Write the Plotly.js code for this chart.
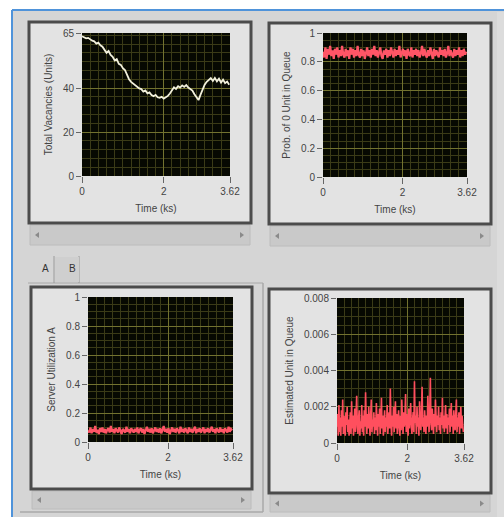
<!DOCTYPE html>
<html><head><meta charset="utf-8">
<script src="https://cdn.plot.ly/plotly-3.0.1.min.js"></script>
<style>html,body{margin:0;padding:0;background:#fff;}#chart{width:504px;height:517px;}</style>
</head><body><div id="chart"></div>
<script>
// ---- data ----
const timeTicks = [0, 2, 3.62];
const timeTickText = ['0', '2', '3.62'];
const vacancyTicks = [0, 20, 40, 65];
const probTicks = [0, 0.2, 0.4, 0.6, 0.8, 1];
const queueTicks = [0, 0.002, 0.004, 0.006, 0.008];

// Total Vacancies (Units), sampled every 0.05 ks
const vacancies = [63.5,63,62.6,62.8,62,61.5,61.2,60.2,60.6,59.4,58.8,57.5,56,56.8,55,54.2,52.5,53.1,51,50.5,
  49,48.2,46,44,42.8,42,41.2,40.6,39.8,39.5,38.4,38.9,37.6,38,36.8,36.3,36.9,35.8,35.5,36,
  35.2,35.8,36.4,37.5,39.2,40.3,39.6,40.8,40.2,41.2,40.5,41.3,40.2,39.6,38.8,37.2,35.5,34.5,37,39.4,
  41.5,42.8,43.6,44.5,43.2,44.6,43,44.2,42.5,43.8,42.2,42.9,41.5];

// Prob. of 0 Unit in Queue, sampled every 0.03 ks
const probZero = [0.87,0.83,0.90,0.82,0.89,0.85,0.91,0.84,0.88,0.82,0.89,0.85,0.90,0.83,0.88,0.84,0.91,0.85,0.83,0.89,
  0.84,0.88,0.82,0.90,0.85,0.89,0.83,0.88,0.84,0.91,0.85,0.83,0.89,0.84,0.88,0.82,0.86,0.90,0.84,0.88,
  0.83,0.89,0.85,0.91,0.84,0.88,0.83,0.86,0.90,0.84,0.82,0.88,0.85,0.89,0.83,0.88,0.84,0.90,0.85,0.83,
  0.89,0.84,0.88,0.85,0.91,0.83,0.86,0.89,0.84,0.88,0.82,0.89,0.85,0.84,0.90,0.83,0.88,0.85,0.89,0.84,
  0.88,0.83,0.86,0.91,0.84,0.89,0.85,0.83,0.88,0.84,0.90,0.85,0.82,0.89,0.84,0.88,0.85,0.83,0.90,0.85,
  0.88,0.84,0.89,0.83,0.86,0.91,0.84,0.88,0.85,0.83,0.89,0.84,0.88,0.85,0.90,0.83,0.88,0.84,0.89,0.85,0.87];

// Server Utilization A, sampled every 0.03 ks
const utilA = [0.08,0.065,0.10,0.06,0.09,0.07,0.11,0.065,0.085,0.055,0.095,0.07,0.10,0.065,0.09,0.06,0.085,0.095,0.065,0.11,
  0.07,0.09,0.06,0.095,0.08,0.065,0.10,0.07,0.055,0.09,0.08,0.065,0.105,0.07,0.09,0.06,0.095,0.08,0.065,0.09,
  0.07,0.10,0.06,0.085,0.095,0.065,0.09,0.055,0.085,0.105,0.07,0.09,0.065,0.095,0.06,0.085,0.10,0.07,0.09,0.065,
  0.095,0.06,0.085,0.11,0.07,0.09,0.065,0.095,0.055,0.085,0.10,0.07,0.09,0.065,0.095,0.08,0.06,0.105,0.07,0.09,
  0.065,0.095,0.08,0.06,0.10,0.07,0.09,0.065,0.085,0.105,0.06,0.09,0.07,0.095,0.065,0.085,0.10,0.06,0.09,0.07,
  0.095,0.065,0.085,0.105,0.07,0.09,0.06,0.095,0.08,0.065,0.10,0.07,0.09,0.06,0.095,0.08,0.065,0.105,0.07,0.09,0.08];

// Estimated Unit in Queue, sampled every 0.0181 ks
const queueEst = [
  0.0009,0.0016,0.0004,0.0021,0.0006,0.0014,0.0004,0.0018,0.0009,0.0024,0.0005,0.0015,0.0008,0.0004,0.0017,0.0010,0.0020,0.0006,0.0013,0.0004,
  0.0010,0.0017,0.0005,0.0023,0.0008,0.0015,0.0004,0.0012,0.0019,0.0006,0.0015,0.0026,0.0009,0.0005,0.0014,0.0018,0.0004,0.0012,0.0008,0.0021,
  0.0006,0.0015,0.0004,0.0018,0.0009,0.0028,0.0013,0.0005,0.0016,0.0008,0.0020,0.0010,0.0004,0.0015,0.0024,0.0006,0.0013,0.0009,0.0017,0.0005,
  0.0014,0.0007,0.0022,0.0011,0.0004,0.0016,0.0009,0.0019,0.0005,0.0013,0.0025,0.0008,0.0015,0.0004,0.0012,0.0018,0.0006,0.0014,0.0009,0.0021,
  0.0005,0.0013,0.0017,0.0008,0.0030,0.0011,0.0004,0.0015,0.0009,0.0020,0.0006,0.0014,0.0023,0.0008,0.0016,0.0005,0.0012,0.0018,0.0009,0.0004,
  0.0015,0.0007,0.0024,0.0013,0.0005,0.0017,0.0009,0.0014,0.0027,0.0006,0.0016,0.0010,0.0004,0.0019,0.0008,0.0014,0.0022,0.0009,0.0005,0.0013,
  0.0017,0.0006,0.0034,0.0011,0.0015,0.0005,0.0020,0.0009,0.0014,0.0004,0.0023,0.0012,0.0007,0.0016,0.0031,0.0009,0.0014,0.0006,0.0018,0.0011,
  0.0005,0.0015,0.0009,0.0026,0.0013,0.0006,0.0017,0.0036,0.0011,0.0007,0.0019,0.0013,0.0005,0.0016,0.0009,0.0024,0.0012,0.0006,0.0015,0.0010,
  0.0020,0.0007,0.0014,0.0005,0.0017,0.0010,0.0025,0.0008,0.0015,0.0006,0.0013,0.0021,0.0008,0.0016,0.0005,0.0014,0.0010,0.0019,0.0006,0.0013,
  0.0022,0.0009,0.0015,0.0005,0.0018,0.0010,0.0007,0.0016,0.0024,0.0006,0.0014,0.0009,0.0017,0.0005,0.0013,0.0020,0.0008,0.0015,0.0010,0.0006];

// ---- layout helpers ----
const W = 504, H = 517;
const px = x => x / W, py = y => 1 - y / H;
const plotBg = '#070902', minorGrid = '#3b3b17', majorGrid = '#72722f';
const tickFont = {family: 'Liberation Sans, Arial, sans-serif', size: 10, color: '#444'};
const titleFont = {family: 'Liberation Sans, Arial, sans-serif', size: 10, color: '#444'};

// plot areas in pixels [left, top, right, bottom]
const areas = [[82, 33, 230, 176], [323, 33, 467, 177], [88, 297, 233, 442], [337, 298, 464, 443]];

function xAxis(i, anchor) {
  const a = areas[i];
  return {domain: [px(a[0]), px(a[2])], anchor: anchor, range: [0, 3.62], tickmode: 'array',
    tickvals: timeTicks, ticktext: timeTickText, ticks: 'outside', ticklen: 6, tickcolor: '#666',
    tickfont: tickFont, showgrid: true, gridcolor: majorGrid, gridwidth: 1, zeroline: false, showline: false,
    minor: {tickmode: 'linear', tick0: 0, dtick: 0.2, showgrid: true, gridcolor: minorGrid, gridwidth: 1, ticks: ''},
    title: {text: 'Time (ks)', font: titleFont, standoff: 8}, fixedrange: true};
}
function yAxis(i, anchor, range, ticks, text, minorDt, title) {
  const a = areas[i];
  return {domain: [py(a[3]), py(a[1])], anchor: anchor, range: range, tickmode: 'array',
    tickvals: ticks, ticktext: text, ticks: 'outside', ticklen: 5, tickcolor: '#666',
    tickfont: tickFont, showgrid: true, gridcolor: majorGrid, gridwidth: 1, zeroline: false, showline: false,
    minor: {tickmode: 'linear', tick0: 0, dtick: minorDt, showgrid: true, gridcolor: minorGrid, gridwidth: 1, ticks: ''},
    title: {text: title, font: titleFont, standoff: 8}, fixedrange: true};
}

const shapes = [];
function rect(x0, y0, x1, y1, fill, lineColor, lw) {
  shapes.push({type: 'rect', xref: 'paper', yref: 'paper', layer: 'below',
    x0: px(x0), x1: px(x1), y0: py(y1), y1: py(y0), fillcolor: fill,
    line: {color: lineColor || 'rgba(0,0,0,0)', width: lw || 0}});
}
function seg(x0, y0, x1, y1, color, lw) {
  shapes.push({type: 'line', xref: 'paper', yref: 'paper', layer: 'below',
    x0: px(x0), x1: px(x1), y0: py(y0), y1: py(y1), line: {color: color, width: lw}});
}
function tri(x, y, dir) {
  const d = dir < 0 ? `M${px(x+2)},${py(y-3)} L${px(x-2)},${py(y)} L${px(x+2)},${py(y+3)} Z`
                    : `M${px(x-2)},${py(y-3)} L${px(x+2)},${py(y)} L${px(x-2)},${py(y+3)} Z`;
  shapes.push({type: 'path', xref: 'paper', yref: 'paper', layer: 'below', path: d,
    fillcolor: '#8a8a8a', line: {width: 0}});
}

// workspace
rect(13, 10, 504, 517, '#d5d5d5');
rect(497, 12, 504, 517, '#dcdcdc');
// blue window edges
seg(12, 10, 504, 10, '#4f93da', 2);
seg(12, 10, 12, 517, '#4f93da', 2);
// tab control
seg(28, 283, 263, 283, '#a8a8a8', 1);
seg(263, 283, 263, 512, '#a8a8a8', 1.5);
seg(20, 512, 263, 512, '#a8a8a8', 1.5);
seg(54, 256, 54, 283, '#9a9a9a', 1);
seg(79, 256, 79, 283, '#9a9a9a', 1);
rect(55, 257, 79, 282, '#cfcfcf');

// panels: frame + scrollbar
const panels = [[29, 22, 251, 223, 245], [269, 23, 491, 224, 246], [31, 287, 252, 489, 509], [269, 289, 491, 493, 512]];
panels.forEach(p => {
  rect(p[0] + 1, p[3] + 2, p[2] - 1, p[4], '#c9c9c9', '#bcbcbc', 1);
  tri(p[0] + 8, (p[3] + p[4]) / 2 + 1, -1);
  tri(p[2] - 9, (p[3] + p[4]) / 2 + 1, 1);
  rect(p[0], p[1], p[2], p[3], '#e3e3e3', '#4b4b4b', 3);
});
// plot backgrounds
areas.forEach(a => rect(a[0], a[1], a[2], a[3], plotBg));

const traces = [
  {x0: 0, dx: 0.05, y: vacancies, xaxis: 'x', yaxis: 'y', type: 'scatter', mode: 'lines',
   line: {color: '#f2f0dc', width: 1.8}, hoverinfo: 'skip'},
  {x0: 0, dx: 0.03, y: probZero, xaxis: 'x2', yaxis: 'y2', type: 'scatter', mode: 'lines',
   line: {color: '#ff5566', width: 2.2}, hoverinfo: 'skip'},
  {x0: 0, dx: 0.03, y: utilA, xaxis: 'x3', yaxis: 'y3', type: 'scatter', mode: 'lines',
   line: {color: '#ff5566', width: 2.2}, hoverinfo: 'skip'},
  {x0: 0, dx: 0.0181, y: queueEst, xaxis: 'x4', yaxis: 'y4', type: 'scatter', mode: 'lines',
   line: {color: '#ff4f5e', width: 1.6}, hoverinfo: 'skip'}
];

const layout = {
  width: W, height: H, margin: {l: 0, r: 0, t: 0, b: 0}, showlegend: false,
  paper_bgcolor: '#ffffff', plot_bgcolor: 'rgba(0,0,0,0)',
  xaxis: xAxis(0, 'y'), yaxis: yAxis(0, 'x', [0, 65], vacancyTicks, ['0', '20', '40', '65'], 4, 'Total Vacancies (Units)'),
  xaxis2: xAxis(1, 'y2'), yaxis2: yAxis(1, 'x2', [0, 1], probTicks, ['0', '0.2', '0.4', '0.6', '0.8', '1'], 0.05, 'Prob. of 0 Unit in Queue'),
  xaxis3: xAxis(2, 'y3'), yaxis3: yAxis(2, 'x3', [0, 1], probTicks, ['0', '0.2', '0.4', '0.6', '0.8', '1'], 0.05, 'Server Utilization A'),
  xaxis4: xAxis(3, 'y4'), yaxis4: yAxis(3, 'x4', [0, 0.008], queueTicks, ['0', '0.002', '0.004', '0.006', '0.008'], 0.0005, 'Estimated Unit in Queue'),
  shapes: shapes,
  annotations: [
    {text: 'A', x: px(40), y: py(268), xref: 'paper', yref: 'paper', showarrow: false, font: {family: 'Liberation Sans, Arial', size: 10, color: '#333'}},
    {text: 'B', x: px(67), y: py(268), xref: 'paper', yref: 'paper', showarrow: false, font: {family: 'Liberation Sans, Arial', size: 10, color: '#333'}}
  ]
};
Plotly.newPlot('chart', traces, layout, {staticPlot: true, displayModeBar: false});
</script></body></html>
